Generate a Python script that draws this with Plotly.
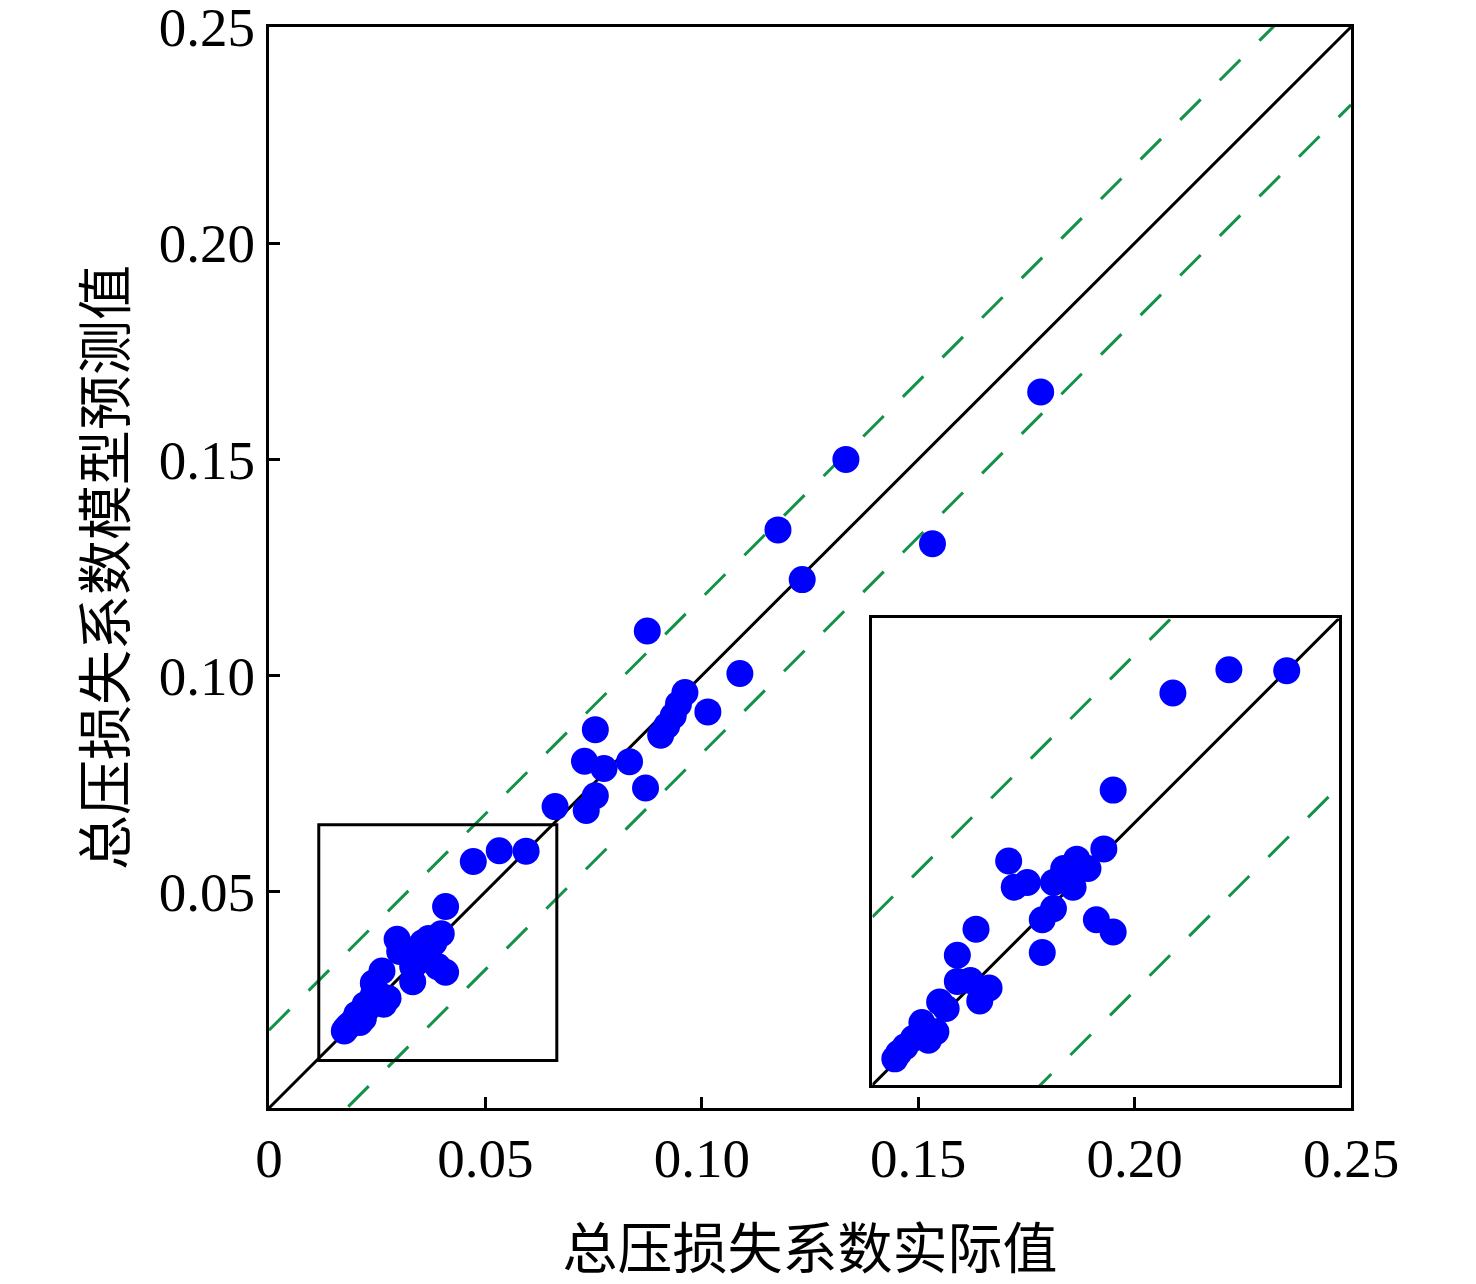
import plotly.graph_objects as go

# Actual vs predicted total pressure loss coefficient
actual = [0.1783, 0.1333, 0.1176, 0.1232, 0.1533, 0.0874, 0.1088, 0.1014, 0.0961, 0.0946,
          0.0934, 0.0919, 0.0905, 0.0754, 0.0729, 0.0774, 0.0833, 0.0754, 0.0733, 0.0870,
          0.0661, 0.0594, 0.0532, 0.0472, 0.0408, 0.0398, 0.0369, 0.0381, 0.0355, 0.0296,
          0.0316, 0.0302, 0.0344, 0.0365, 0.0344, 0.0332, 0.0390, 0.0408, 0.0332, 0.0261,
          0.0241, 0.0255, 0.0275, 0.0265, 0.0241, 0.0222, 0.0229, 0.0203, 0.0218, 0.0210,
          0.0194, 0.0185, 0.0178, 0.0174]
predicted = [0.1656, 0.1500, 0.1337, 0.1222, 0.1305, 0.1103, 0.1005, 0.0916, 0.0961, 0.0934,
             0.0907, 0.0884, 0.0862, 0.0875, 0.0802, 0.0785, 0.0801, 0.0722, 0.0688, 0.0740,
             0.0697, 0.0594, 0.0595, 0.0570, 0.0466, 0.0403, 0.0392, 0.0382, 0.0382, 0.0390,
             0.0367, 0.0362, 0.0367, 0.0362, 0.0339, 0.0327, 0.0327, 0.0314, 0.0292, 0.0317,
             0.0289, 0.0262, 0.0254, 0.0240, 0.0261, 0.0239, 0.0232, 0.0217, 0.0207, 0.0198,
             0.0200, 0.0191, 0.0184, 0.0178]

axis_range = [0.0, 0.25]
inset_range = [0.015, 0.065]
zoom_box_x = [0.0115, 0.0665]
zoom_box_y = [0.011, 0.0655]
band = 0.018
x_ticks = [0, 0.05, 0.10, 0.15, 0.20, 0.25]
x_ticktext = ["0", "0.05", "0.10", "0.15", "0.20", "0.25"]
y_ticks = [0.05, 0.10, 0.15, 0.20, 0.25]
y_ticktext = ["0.05", "0.10", "0.15", "0.20", "0.25"]
x_title = "总压损失系数实际值"
y_title = "总压损失系数模型预测值"

GREEN = "#13924a"
BLUE = "#0000ff"
SERIF = "Liberation Serif, Times New Roman, serif"
CJK = "Noto Sans CJK SC, sans-serif"
LW = 3

fig = go.Figure()

def add_set(xa, ya, rng):
    lo, hi = rng
    fig.add_trace(go.Scatter(x=[lo, hi], y=[lo + band, hi + band], mode="lines",
                             line=dict(color=GREEN, width=LW, dash="29px,27px"),
                             xaxis=xa, yaxis=ya, showlegend=False, hoverinfo="skip"))
    fig.add_trace(go.Scatter(x=[lo, hi], y=[lo - band, hi - band], mode="lines",
                             line=dict(color=GREEN, width=LW, dash="29px,27px"),
                             xaxis=xa, yaxis=ya, showlegend=False, hoverinfo="skip"))
    fig.add_trace(go.Scatter(x=[lo, hi], y=[lo, hi], mode="lines",
                             line=dict(color="black", width=LW),
                             xaxis=xa, yaxis=ya, showlegend=False, hoverinfo="skip"))
    fig.add_trace(go.Scatter(x=actual, y=predicted, mode="markers",
                             marker=dict(color=BLUE, size=27, line=dict(width=0)),
                             xaxis=xa, yaxis=ya, showlegend=False))

add_set("x", "y", axis_range)
add_set("x2", "y2", inset_range)

fig.add_shape(type="rect", xref="x", yref="y",
              x0=zoom_box_x[0], x1=zoom_box_x[1], y0=zoom_box_y[0], y1=zoom_box_y[1],
              line=dict(color="black", width=LW), fillcolor="rgba(0,0,0,0)")

fig.update_layout(
    width=1476, height=1284,
    margin=dict(l=261, r=133, t=19, b=184, autoexpand=False),
    paper_bgcolor="white", plot_bgcolor="white",
    xaxis=dict(domain=[0, 1], range=axis_range, tickvals=x_ticks, ticktext=x_ticktext,
               ticks="inside", ticklen=11, tickwidth=LW, tickcolor="black",
               showline=True, linecolor="black", linewidth=LW, mirror=True,
               showgrid=False, zeroline=False, ticklabeloverflow="allow", automargin=False,
               tickfont=dict(family=SERIF, size=55, color="black"),
               title=dict(text=x_title, font=dict(family=CJK, size=55, color="black"), standoff=42)),
    yaxis=dict(domain=[0, 1], range=axis_range, tickvals=y_ticks, ticktext=y_ticktext,
               ticks="inside", ticklen=11, tickwidth=LW, tickcolor="black",
               showline=True, linecolor="black", linewidth=LW, mirror=True,
               showgrid=False, zeroline=False, ticklabeloverflow="allow", automargin=False,
               tickfont=dict(family=SERIF, size=55, color="black"),
               title=dict(text=y_title, font=dict(family=CJK, size=55, color="black"), standoff=16)),
    xaxis2=dict(domain=[0.5577, 0.9889], range=inset_range, anchor="y2",
                showticklabels=False, ticks="", showgrid=False, zeroline=False,
                showline=True, linecolor="black", linewidth=LW, mirror=True),
    yaxis2=dict(domain=[0.0213, 0.4529], range=inset_range, anchor="x2",
                showticklabels=False, ticks="", showgrid=False, zeroline=False,
                showline=True, linecolor="black", linewidth=LW, mirror=True),
)

fig.write_html("out.html")
